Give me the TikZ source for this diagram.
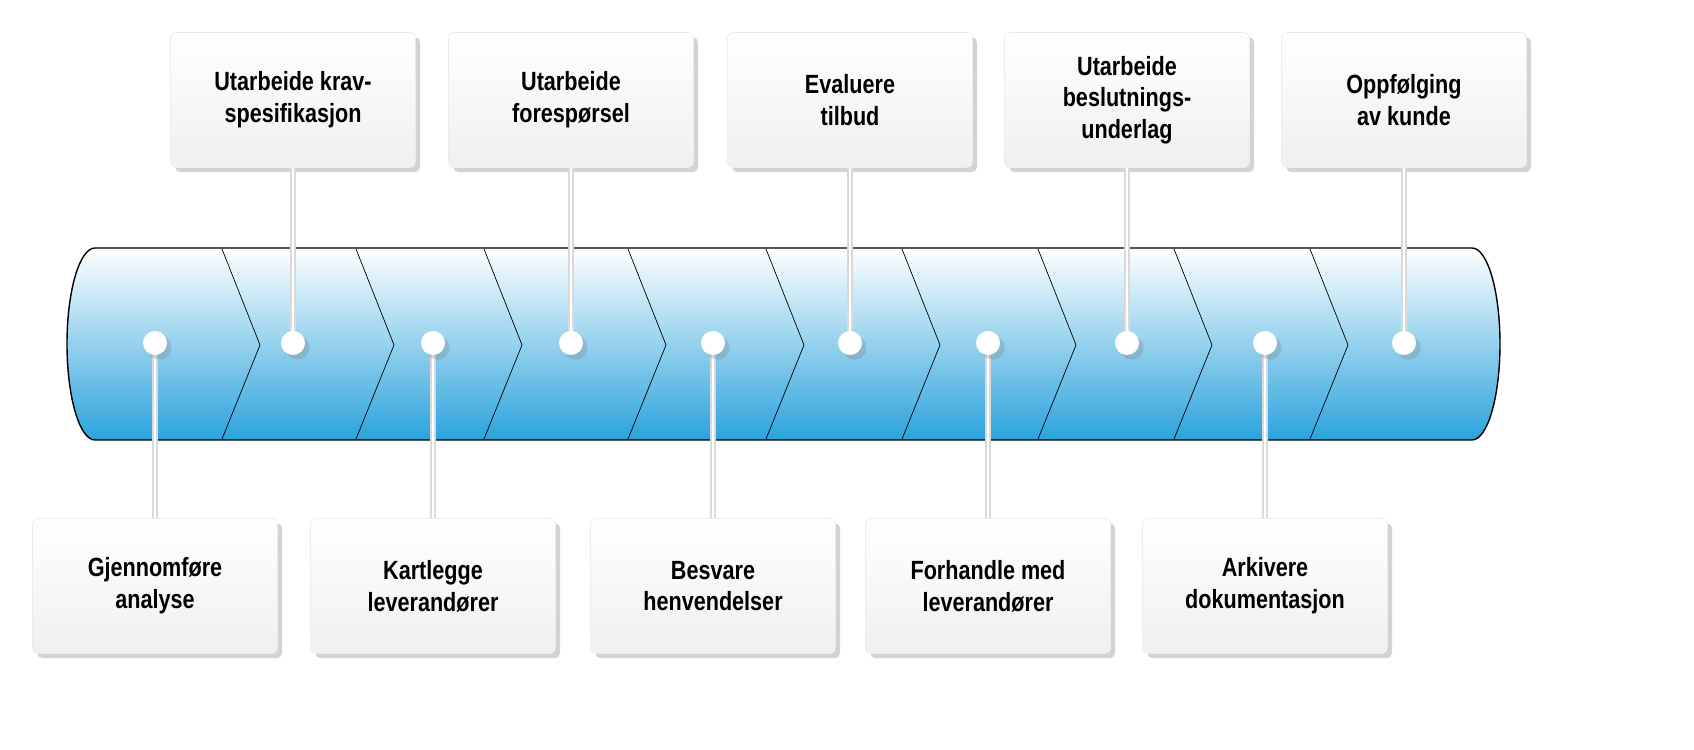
\documentclass[tikz,border=0pt]{standalone}
\usepackage{fontspec}
\setmainfont{Liberation Sans}[FakeStretch=0.82]
\usepackage{tikz}
\usetikzlibrary{positioning,calc,shadows}

\definecolor{tubeblue}{HTML}{2AA3DC}
\tikzset{
  stepcard/.style={rectangle, rounded corners=3pt, minimum width=4.9cm, minimum height=2.7cm,
    top color=white, bottom color=gray!12, draw=gray!15, drop shadow={opacity=0.35},
    align=center, font=\bfseries\fontsize{15}{18}\selectfont},
  pin/.style={circle, fill=white, inner sep=0pt, minimum size=0.48cm, drop shadow={opacity=0.3}},
  stemback/.style={line width=3pt, gray!30},
  stem/.style={line width=1.6pt, white},
}

\begin{document}
\begin{tikzpicture}[x=0.02cm, y=0.02cm]
    % Tube
    \shade[top color=white, bottom color=tubeblue, draw=black, thick]
        (95,502) -- (1472,502) arc[start angle=90, end angle=-90, x radius=28, y radius=96]
        -- (95,310) arc[start angle=270, end angle=90, x radius=28, y radius=96] -- cycle;

    % Chevrons
    \foreach \x in {222,356,484,628,766,902,1038,1174,1310}
        \draw[thin] (\x,501) -- (\x+38,405) -- (\x,311);

    % Pins
    \foreach \i/\x in {1/155,2/293,3/433,4/571,5/713,6/850,7/988,8/1127,9/1265,10/1404}
        \coordinate (p\i) at (\x,407);

    % Top cards
    \foreach \i/\txt in {2/{Utarbeide krav-\\spesifikasjon},4/{Utarbeide\\forespørsel},6/{Evaluere\\tilbud},8/{Utarbeide\\beslutnings-\\underlag},10/{Oppfølging\\av kunde}}{
        \node[stepcard] (c\i) at ($(p\i)+(0,243)$) {\txt};
        \draw[stemback] (c\i.south) -- (p\i);
        \draw[stem] (c\i.south) -- (p\i);
        \node[pin] (d\i) at (p\i) {};
    }

    % Bottom cards
    \foreach \i/\txt in {1/{Gjennomføre\\analyse},3/{Kartlegge\\leverandører},5/{Besvare\\henvendelser},7/{Forhandle med\\leverandører},9/{Arkivere\\dokumentasjon}}{
        \node[stepcard] (c\i) at ($(p\i)+(0,-243)$) {\txt};
        \draw[stemback] (c\i.north) -- (p\i);
        \draw[stem] (c\i.north) -- (p\i);
        \node[pin] (d\i) at (p\i) {};
    }

    \pgfresetboundingbox
    \useasboundingbox (0,0) rectangle (1694,750);
\end{tikzpicture}
\end{document}
